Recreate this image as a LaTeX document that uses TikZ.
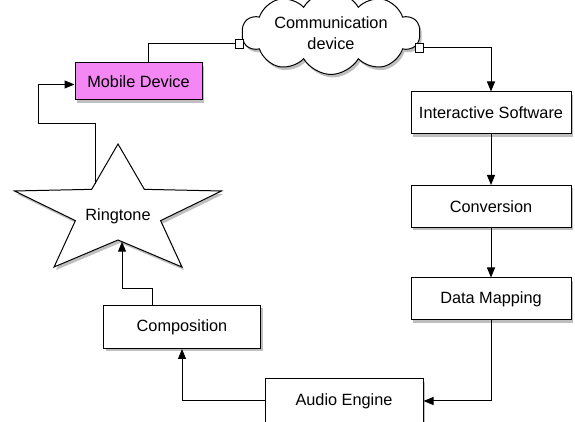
\documentclass[tikz,border=0pt]{standalone}
\usepackage{fontspec}
\setmainfont{Liberation Sans}
\usetikzlibrary{arrows.meta,shapes.symbols,shadows}
\definecolor{mdpink}{RGB}{245,135,245}
\tikzset{
  shad/.style={drop shadow={shadow xshift=2pt,shadow yshift=-3pt,opacity=0.25,fill=black}},
  box/.style={draw, line width=1pt, fill=white, minimum height=42pt, inner sep=2pt,
    font=\fontsize{16.3}{19}\selectfont, shad},
  arr/.style={line width=1pt, -{Triangle[length=10pt,width=8pt]}},
  ln/.style={line width=1pt},
  port/.style={draw, line width=0.9pt, fill=white, minimum width=8pt, minimum height=9pt, inner sep=0pt},
}
\begin{document}
\begin{tikzpicture}[x=1pt,y=1pt]
\useasboundingbox (0,0) rectangle (575,422);
% star
\begin{scope}[shift={(118,210)}, xscale=1.6]
  \draw[line width=1pt, fill=white, shad] (90:68) -- (126:28) -- (162:68) -- (198:28) -- (234:68)
    -- (270:28) -- (306:68) -- (342:28) -- (18:68) -- (54:28) -- cycle;
\end{scope}
\node[font=\fontsize{16.3}{19}\selectfont] (ring) at (118,206) {Ringtone};
\coordinate (rUL) at (95,238.4);
\coordinate (rB) at (122,180.3);
% boxes
\node[box, fill=mdpink, minimum width=127pt, minimum height=37pt] (md) at (138.5,340.5) {Mobile Device};
\node[cloud, cloud puffs=10, cloud puff arc=120, aspect=2.8, draw, line width=1pt, fill=white, shad,
  minimum width=178pt, minimum height=64pt, inner sep=0pt, align=center,
  font=\fontsize{16.3}{21}\selectfont] (cd) at (331,389) {Communication\\device};
\node[box, minimum width=160pt] (is) at (491,309) {Interactive Software};
\node[box, minimum width=160pt] (conv) at (491,215.5) {Conversion};
\node[box, minimum width=160pt] (dm) at (491,123) {Data Mapping};
\node[box, minimum width=158pt, minimum height=44pt] (ae) at (344,21) {Audio Engine};
\node[box, minimum width=157pt, minimum height=43pt] (comp) at (182,95) {Composition};
% ports
\node[port] (pl) at (239,378) {};
\node[port] (pr) at (419,374) {};
% connectors
\draw[ln] ([xshift=9.5pt]md.north) |- (pl.west);
\draw[arr] (pr.east) -| (is.north);
\draw[arr] (is.south) -- (conv.north);
\draw[arr] (conv.south) -- (dm.north);
\draw[arr] (dm.south) |- (ae.east);
\draw[arr] (ae.west) -| (comp.south);
\draw[arr] ([xshift=-29.5pt]comp.north) -- ++(0,16) -| (rB);
\coordinate (k1) at (38,298);
\draw[arr] (rUL) |- (k1) |- ([yshift=-3pt]md.west);
\end{tikzpicture}
\end{document}
